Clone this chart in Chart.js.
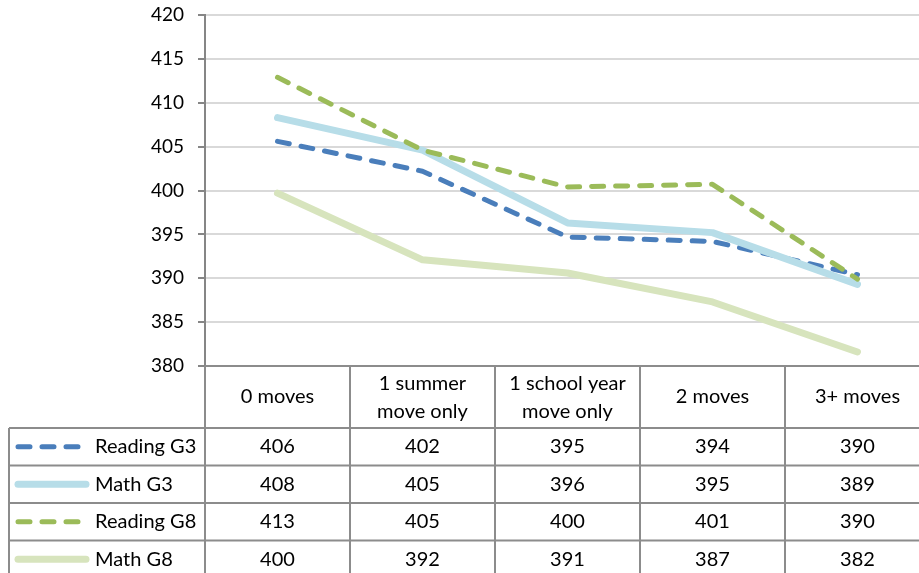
<!DOCTYPE html>
<html>
<head>
<meta charset="utf-8">
<script src="https://cdn.jsdelivr.net/npm/chart.js@4.4.0/dist/chart.umd.min.js"></script>
<style>
html, body { margin: 0; padding: 0; background: #fff; overflow: hidden; }
#wrap { width: 919px; height: 573px; overflow: hidden; }
</style>
</head>
<body>
<div id="wrap"><canvas id="grafica" width="932" height="573"></canvas></div>
<script>
// categorias (las de dos lineas como arreglos)
const categorias = ["0 moves", ["1 summer", "move only"], ["1 school year", "move only"], "2 moves", "3+ moves"];

// valores
const readingG3 = [405.6, 402.2, 394.7, 394.2, 390.4];
const mathG3 = [408.3, 404.6, 396.3, 395.2, 389.3];
const readingG8 = [412.9, 404.6, 400.4, 400.7, 389.9];
const mathG8 = [399.7, 392.1, 390.6, 387.3, 381.6];

const series = ["Reading G3", "Math G3", "Reading G8", "Math G8"];
const ejeMin = 380, ejeMax = 420, ejePaso = 5;

const fuente = "Lato";

// tabla de datos debajo de la grafica (como en Excel)
const tablaDatos = {
  id: "tablaDatos",
  afterDraw(chart) {
    const ctx = chart.ctx;
    const a = chart.chartArea;
    const x = chart.scales.x;
    const W = chart.width, H = chart.height;
    const paso = x.getPixelForValue(1) - x.getPixelForValue(0);
    const inicio = x.getPixelForValue(0) - paso / 2;
    const cabH = 62, filaH = 37.5;
    const top = a.bottom, filasTop = top + cabH;

    const linea = (x1, y1, x2, y2) => {
      ctx.beginPath(); ctx.moveTo(x1, y1); ctx.lineTo(x2, y2); ctx.stroke();
    };

    ctx.save();
    ctx.strokeStyle = "#8c8c8c";
    ctx.lineWidth = 2;
    ctx.setLineDash([]);

    // lineas verticales de columnas
    for (let i = 0; i <= categorias.length; i++) {
      const px = inicio + i * paso;
      linea(px, top, px, H);
    }
    linea(9, filasTop, 9, H);
    // horizontales
    linea(a.left, top, W, top);
    for (let r = 0; r < series.length; r++) {
      const y = filasTop + r * filaH;
      linea(9, y, W, y);
    }

    ctx.fillStyle = "#000";
    ctx.font = "20px " + fuente;
    ctx.textBaseline = "middle";
    ctx.textAlign = "center";

    // encabezados
    categorias.forEach((c, i) => {
      const cx = x.getPixelForValue(i);
      const cy = top + cabH / 2;
      if (Array.isArray(c)) {
        ctx.fillText(c[0], cx, cy - 13);
        ctx.fillText(c[1], cx, cy + 15);
      } else {
        ctx.fillText(c, cx, cy);
      }
    });

    // filas
    chart.data.datasets.forEach((ds, r) => {
      const cy = filasTop + r * filaH + filaH / 2;
      // muestra de leyenda
      ctx.save();
      ctx.strokeStyle = ds.borderColor;
      ctx.lineWidth = ds.borderWidth;
      ctx.lineCap = "round";
      ctx.setLineDash(ds.borderDash || []);
      linea(18, cy, 86, cy);
      ctx.restore();

      ctx.textAlign = "left";
      ctx.fillText(ds.label, 95, cy);
      ctx.textAlign = "center";
      ds.data.forEach((v, i) => {
        ctx.fillText(String(Math.round(v)), x.getPixelForValue(i), cy);
      });
    });
    ctx.restore();
  }
};

const ctx = document.getElementById("grafica");

new Chart(ctx, {
  type: "line",
  data: {
    labels: categorias,
    datasets: [{
      label: series[0],
      data: readingG3,
      borderColor: "#4a7ebb",
      borderWidth: 5,
      borderDash: [12, 12],
      borderCapStyle: "round",
      borderJoinStyle: "round",
      pointRadius: 0,
      order: 4
    }, {
      label: series[1],
      data: mathG3,
      borderColor: "#b7dde8",
      borderWidth: 7,
      borderCapStyle: "round",
      borderJoinStyle: "round",
      pointRadius: 0,
      order: 3
    }, {
      label: series[2],
      data: readingG8,
      borderColor: "#9bbb59",
      borderWidth: 5,
      borderDash: [12, 12],
      borderCapStyle: "round",
      borderJoinStyle: "round",
      pointRadius: 0,
      order: 2
    }, {
      label: series[3],
      data: mathG8,
      borderColor: "#d7e4bd",
      borderWidth: 7,
      borderCapStyle: "round",
      borderJoinStyle: "round",
      pointRadius: 0,
      order: 1
    }]
  },
  options: {
    responsive: false,
    animation: false,
    layout: { padding: { top: 15, bottom: 207, right: 2, left: 0 } },
    plugins: {
      legend: { display: false },
      tooltip: { enabled: false }
    },
    scales: {
      x: {
        display: false,
        offset: true
      },
      y: {
        min: ejeMin,
        max: ejeMax,
        afterFit: s => {
          s.width = 205;
          s.paddingTop = 0;
          s.paddingBottom = 0;
        },
        ticks: {
          stepSize: ejePaso,
          padding: 14,
          color: "#000",
          font: { family: fuente, size: 19 }
        },
        grid: {
          color: "#d9d9d9",
          lineWidth: 2,
          tickLength: 7,
          tickColor: "#868686"
        },
        border: { color: "#868686", width: 2 }
      }
    }
  },
  plugins: [tablaDatos]
});
</script>
</body>
</html>
